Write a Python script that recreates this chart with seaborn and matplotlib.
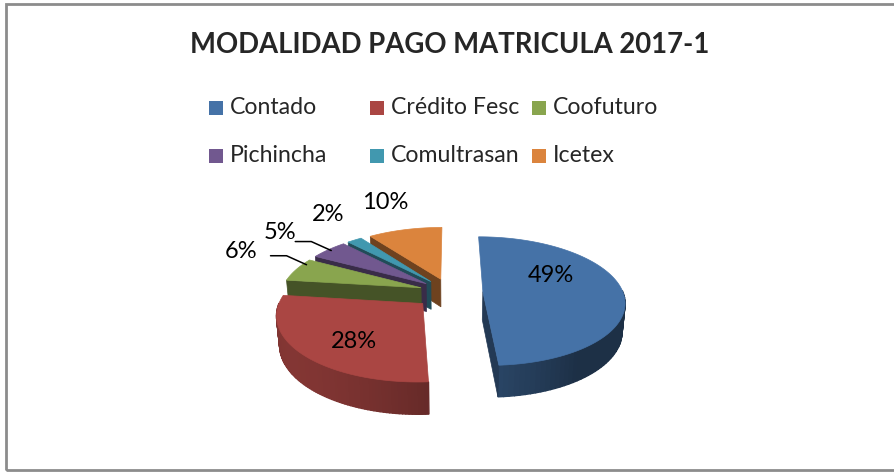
import numpy as np
import matplotlib.pyplot as plt
import matplotlib.colors as mcolors
from matplotlib.patches import Polygon, Rectangle
import seaborn as sns

# --- data ---
categories = ["Contado", "Crédito Fesc", "Coofuturo", "Pichincha", "Comultrasan", "Icetex"]
percentages = [49, 28, 6, 5, 2, 10]
colors = ["#4572A7", "#AA4643", "#89A54E", "#71588F", "#4198AF", "#DB843D"]

# --- style / layout ---
explode = [0.235, 0.26, 0.22, 0.22, 0.22, 0.22]
label_r = [0.585, 0.68, 1.58, 1.57, 1.63, 1.68]
label_turn = [26, 8, -6, 0, -5, 0]          # degrees, label angle vs slice middle
leader = [False, False, True, True, False, False]
W, H = 895, 472
cx_px, cy_px, scale = 450, 180, 140   # pie centre (px from bottom) and px per unit
tilt = np.arcsin(0.45)                # viewing elevation
thick = 0.23                          # pie thickness
dist = 6.0                            # camera distance (perspective)

sns.set_style("white")
plt.rcParams["font.family"] = ["Lato", "DejaVu Sans"]

fig = plt.figure(figsize=(W / 100, H / 100), dpi=100)
ax = fig.add_axes([0, 0, 1, 1])
ax.set_xlim(-cx_px / scale, (W - cx_px) / scale)
ax.set_ylim(-cy_px / scale, (H - cy_px) / scale)
ax.axis("off")


def shade(c, f):
    r, g, b = mcolors.to_rgb(c)
    return (r * f, g * f, b * f)


def proj(x, y, z=0.0):
    ys = y * np.sin(tilt) + z * np.cos(tilt)
    d = y * np.cos(tilt) - z * np.sin(tilt)
    f = dist / (dist + d)
    return (x * f, ys * f)


def pt(c, r, th, z=0.0):
    return proj(c[0] + r * np.cos(th), c[1] + r * np.sin(th), z)


# slice angles: start at 12 o'clock, clockwise
cum = np.concatenate([[0], np.cumsum(percentages)])
total = cum[-1]
slices = []
for i, p in enumerate(percentages):
    a2 = np.deg2rad(90 - cum[i] / total * 360)
    a1 = np.deg2rad(90 - cum[i + 1] / total * 360)
    mid = (a1 + a2) / 2
    c = (explode[i] * np.cos(mid), explode[i] * np.sin(mid))
    slices.append((i, a1, a2, mid, c))

# draw back to front
for i, a1, a2, mid, c in sorted(slices, key=lambda s: -s[4][1]):
    col = colors[i]
    # outer wall (front half only)
    ths = np.linspace(a1, a2, 90)
    for t0, t1 in zip(ths[:-1], ths[1:]):
        tm = (t0 + t1) / 2
        if np.sin(tm) >= 0:
            continue
        f = 0.42 + 0.35 * max(0.0, np.cos(tm - np.deg2rad(215)))
        quad = [pt(c, 1, t0), pt(c, 1, t1), pt(c, 1, t1, -thick), pt(c, 1, t0, -thick)]
        ax.add_patch(Polygon(quad, closed=True, fc=shade(col, f), ec=shade(col, f), lw=1.0))
    # radial walls
    for th, vis in ((a1, np.cos(a1) > 1e-6), (a2, np.cos(a2) < -1e-6)):
        if vis:
            quad = [pt(c, 0, th), pt(c, 1, th), pt(c, 1, th, -thick), pt(c, 0, th, -thick)]
            ax.add_patch(Polygon(quad, closed=True, fc=shade(col, 0.5), ec=shade(col, 0.5), lw=0.5))
    # top face
    top = [pt(c, 0, 0)] + [pt(c, 1, t) for t in np.linspace(a1, a2, 200)]
    ax.add_patch(Polygon(top, closed=True, fc=col, ec=col, lw=0.5))

# percentage labels
for i, a1, a2, mid, c in slices:
    th = mid + np.deg2rad(label_turn[i])
    lx, ly = pt(c, label_r[i], th)
    ax.text(lx, ly, f"{percentages[i]}%", ha="center", va="center", fontsize=17, color="black")
    if leader[i]:
        ex, ey = pt(c, 0.97, th)
        bx, by = ex - 20 / scale, ey + 9 / scale
        sx = bx - 16 / scale
        ax.plot([sx, bx, ex], [by, by, ey], color="black", lw=1.1)

# title
fig.text(450 / W, 1 - 45 / H, "MODALIDAD PAGO MATRICULA 2017-1",
         ha="center", va="center", fontsize=19.8, fontweight="bold")

# legend (three equal columns, row by row like the reference)
col_x = [209, 370, 532]
row_y = [108, 156]
for j, name in enumerate(categories):
    x0 = col_x[j % 3]
    y0 = H - row_y[j // 3]
    fig.patches.append(Rectangle((x0 / W, (y0 - 7) / H), 14 / W, 14 / H,
                                 transform=fig.transFigure, fc=colors[j], ec="none"))
    fig.text((x0 + 21) / W, y0 / H, name, ha="left", va="center", fontsize=16.7)

# chart frame
fig.patches.append(Rectangle((6 / W, 2 / H), 1.2, (H - 5.5) / H, transform=fig.transFigure,
                             fill=False, ec="#8c8c8c", lw=2))

fig.savefig("out.png", dpi=100)
